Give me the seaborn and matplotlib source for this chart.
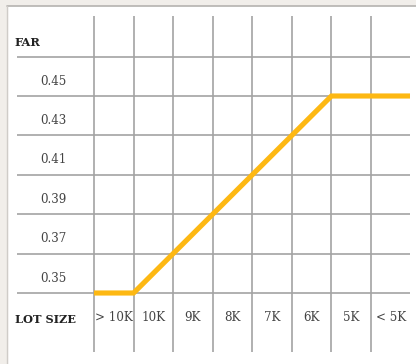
import matplotlib
matplotlib.use("Agg")
import matplotlib.pyplot as plt
import seaborn as sns
import pandas as pd
from matplotlib.patches import Rectangle
from matplotlib.lines import Line2D

# Data
lot_labels = ["> 10K", "10K", "9K", "8K", "7K", "6K", "5K", "< 5K"]
boundary_pos = [0, 1, 2, 3, 4, 5, 6, 7, 8]
far_values = [0.35, 0.35, 0.37, 0.39, 0.41, 0.43, 0.45, 0.45, 0.45]
far_ticks = [0.35, 0.37, 0.39, 0.41, 0.43, 0.45]

sns.set_style("white")
plt.rcParams['font.family'] = ['DejaVu Serif']

W, H = 416, 364
fig = plt.figure(figsize=(W / 100, H / 100), dpi=100, facecolor="white")

# beige frame strips
beige = "#f1eeea"
fig.add_artist(Rectangle((0, 1 - 5 / H), 1, 5 / H, transform=fig.transFigure, color=beige, zorder=0))
fig.add_artist(Rectangle((0, 0), 7 / W, 1, transform=fig.transFigure, color=beige, zorder=0))
fig.add_artist(Line2D([7 / W, 1], [1 - 5.5 / H, 1 - 5.5 / H], transform=fig.transFigure, color="#b5b3b0", lw=1.2))
fig.add_artist(Line2D([7.5 / W, 7.5 / W], [0, 1 - 5.5 / H], transform=fig.transFigure, color="#cfccc8", lw=1.0))

ax = fig.add_axes([17 / W, 1 - 352 / H, (410 - 17) / W, (352 - 16) / H])
ax.set_facecolor("none")

df = pd.DataFrame({"pos": boundary_pos, "far": far_values})
sns.lineplot(data=df, x="pos", y="far", ax=ax, color="#fdb813", lw=3.7,
             solid_capstyle="butt", solid_joinstyle="miter", zorder=5)

px = (371 - 94) / 7.0
ax.set_xlim((17 - 94) / px, (410 - 94) / px)
ax.set_ylim(0.35 - (352 - 293) / 1970, 0.45 + (96 - 16) / 1970)

ax.set_xticks(range(8))
ax.set_yticks(far_ticks + [0.47])
ax.grid(True, color="#a3a3a3", lw=1.2)
ax.tick_params(length=0, labelbottom=False, labelleft=False)
for s in ax.spines.values():
    s.set_visible(False)
ax.set_xlabel("")
ax.set_ylabel("")

txt_color = "#444444"
for v in far_ticks:
    ax.text(-1.03, v + 0.0076, f"{v:.2f}", ha="center", va="center", fontsize=8.6, color=txt_color)
for i, lab in enumerate(lot_labels):
    ax.text(i + 0.5, 0.3378, lab, ha="center", va="center", fontsize=8.6, color=txt_color)

ax.text(-2.0, 0.4774, "FAR", ha="left", va="center", fontsize=8.2, fontweight="bold", color="#222222", clip_on=False)
ax.text(-2.0, 0.3368, "LOT SIZE", ha="left", va="center", fontsize=8.2, fontweight="bold", color="#222222", clip_on=False)

fig.savefig("out.png", dpi=100, facecolor="white")
